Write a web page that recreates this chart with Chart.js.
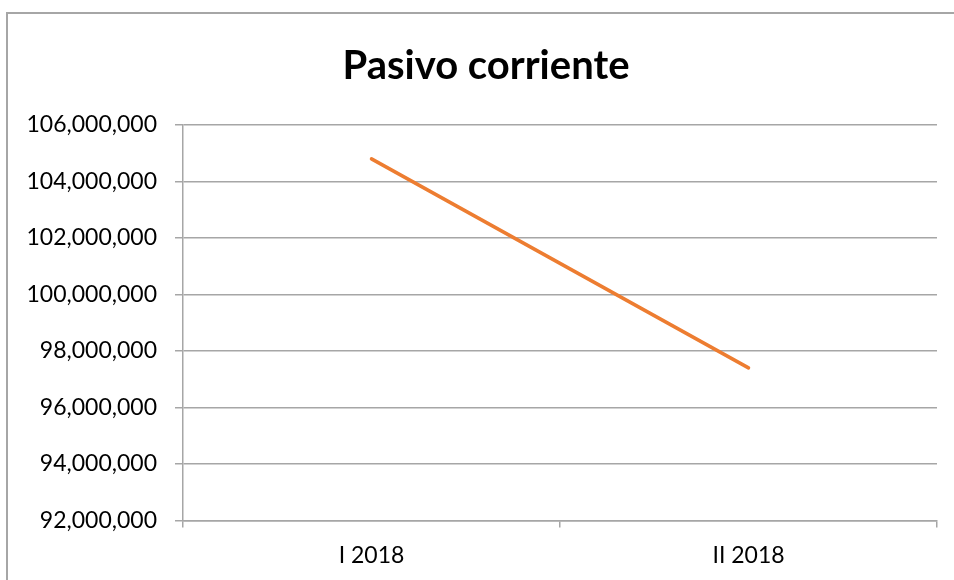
<!DOCTYPE html>
<html>
<head>
<meta charset="utf-8">
<script src="https://cdn.jsdelivr.net/npm/chart.js@4"></script>
<style>
	html, body { margin: 0; padding: 0; background: #fff; overflow: hidden; }
	#wrap { position: relative; width: 954px; height: 580px; }
	#frame { position: absolute; left: 6px; top: 12px; width: 1000px; height: 1000px; border: 2px solid #a6a6a6; box-sizing: border-box; }
	canvas { position: absolute; left: 0; top: 0; }
</style>
</head>
<body>
<div id="wrap">
	<div id="frame"></div>
	<canvas id="pasivo" width="954" height="580"></canvas>
</div>
<script>
// datos del gráfico
const periodos = ["I 2018", "II 2018"];
const pasivoCorriente = [104800000, 97400000];
const ejeMin = 92000000;
const ejeMax = 106000000;
const ejePaso = 2000000;

const gris = "#a6a6a6";
const fuente = "Lato, 'Open Sans', sans-serif";

// el título va centrado sobre el recuadro, no sobre el canvas
const moverTitulo = {
	id: "moverTitulo",
	afterLayout: (chart) => {
		if (chart.titleBlock) chart.titleBlock.left += 35;
	}
};

const ctx = document.getElementById("pasivo");
const chart = new Chart(ctx, {
	type: "line",
	data: {
		labels: periodos,
		datasets: [{
			label: "Pasivo corriente",
			data: pasivoCorriente,
			borderColor: "#ed7d31",
			borderWidth: 3.5,
			borderCapStyle: "round",
			pointRadius: 0,
			tension: 0
		}]
	},
	options: {
		responsive: false,
		animation: false,
		layout: {
			padding: { left: 0, right: 17, top: 0, bottom: -3 }
		},
		plugins: {
			legend: { display: false },
			tooltip: { enabled: false },
			title: {
				display: true,
				text: "Pasivo corriente",
				color: "#000",
				font: { family: fuente, size: 40, weight: "bold" },
				padding: { top: 42, bottom: 35 }
			}
		},
		scales: {
			x: {
				offset: true,
				grid: {
					offset: true,
					drawOnChartArea: false,
					tickLength: 7,
					color: gris,
					lineWidth: 1.5
				},
				border: { color: gris, width: 1.5 },
				ticks: {
					color: "#000",
					padding: 14,
					font: { family: fuente, size: 23 }
				}
			},
			y: {
				min: ejeMin,
				max: ejeMax,
				afterFit: (scale) => { scale.width = 183; },
				grid: {
					tickLength: 8,
					color: gris,
					lineWidth: 1.5
				},
				border: { color: gris, width: 1.5 },
				ticks: {
					stepSize: ejePaso,
					color: "#000",
					padding: 18,
					font: { family: fuente, size: 23 },
					callback: (value) => value.toLocaleString("en-US")
				}
			}
		}
	},
	plugins: [moverTitulo]
});
</script>
</body>
</html>
